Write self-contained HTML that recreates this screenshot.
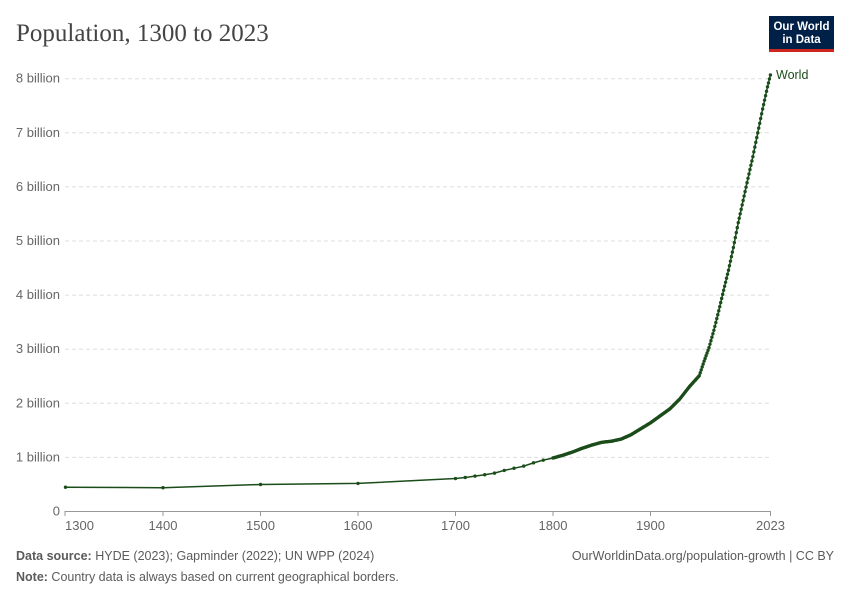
<!DOCTYPE html>
<html><head><meta charset="utf-8"><style>
body{margin:0;background:#fff;width:850px;height:600px;overflow:hidden;font-family:"Liberation Sans",sans-serif}
</style></head><body>
<svg width="850" height="600" xmlns="http://www.w3.org/2000/svg" id="s">
<text x="16" y="41" font-family="Liberation Serif,serif" font-size="25" fill="#444">Population, 1300 to 2023</text>
<rect x="769" y="16" width="65" height="33" fill="#002147"/>
<rect x="769" y="49" width="65" height="3" fill="#ce261e"/>
<text x="801.5" y="30" text-anchor="middle" font-size="11.5" font-weight="bold" fill="#fff">Our World</text>
<text x="801.5" y="43" text-anchor="middle" font-size="11.5" font-weight="bold" fill="#fff">in Data</text>
<g id="grid"></g>
<line x1="65.5" y1="511.5" x2="771" y2="511.5" stroke="#999"/>
<g id="data"></g>
<text x="776" y="79" font-size="12.5" fill="#1b4d1b">World</text>
<text x="16" y="560" font-size="12.5" fill="#5b5b5b"><tspan font-weight="bold">Data source:</tspan> HYDE (2023); Gapminder (2022); UN WPP (2024)</text>
<text x="834" y="560" text-anchor="end" font-size="12.5" fill="#5b5b5b">OurWorldinData.org/population-growth | CC BY</text>
<text x="16" y="581" font-size="12.5" fill="#5b5b5b"><tspan font-weight="bold">Note:</tspan> Country data is always based on current geographical borders.</text>
</svg>
<script>
var ns="http://www.w3.org/2000/svg";
function X(y){return 65.5+(y-1300)*0.975}
function Y(v){return 511-54.1*v}
function el(t,a,p){var e=document.createElementNS(ns,t);for(var k in a)e.setAttribute(k,a[k]);if(p)p.appendChild(e);return e}
var g=document.getElementById("grid");
for(var i=0;i<=8;i++){
 if(i>0)el("line",{x1:65,x2:771,y1:Y(i)+0.5,y2:Y(i)+0.5,stroke:"#ddd","stroke-dasharray":"4,3"},g);
 var t=el("text",{x:60,y:Y(i)+4.5,"text-anchor":"end","font-size":"13",fill:"#666"},g);
 t.textContent=i==0?"0":i+" billion";
}
[[1300,80],[1400,163],[1500,260],[1600,358],[1700,456],[1800,553],[1900,651],[2023,756]].forEach(function(a){
 var x=a[0]==1300?65:a[0]==2023?770.5:X(a[0]);
 el("line",{x1:x,x2:x,y1:511,y2:516,stroke:"#999"},g);
 var t=el("text",{x:a[0]==1300?65:x,y:530,"text-anchor":a[0]==1300?"start":"middle","font-size":"13",fill:"#666"},g);t.textContent=a[0];
});
var early=[[1300,.44],[1400,.43],[1500,.49],[1600,.51],[1700,.60],[1710,.62],[1720,.645],[1730,.67],[1740,.70],[1750,.75],[1760,.79],[1770,.83],[1780,.89],[1790,.94]];
var k=[[1800,.98],[1810,1.03],[1820,1.09],[1830,1.16],[1840,1.22],[1850,1.27],[1860,1.29],[1870,1.33],[1880,1.41],[1890,1.52],[1900,1.63],[1910,1.76],[1920,1.89],[1930,2.07],[1940,2.30],[1950,2.50],[1955,2.77],[1960,3.02],[1965,3.34],[1970,3.70],[1975,4.08],[1980,4.45],[1985,4.87],[1990,5.33],[1995,5.74],[2000,6.15],[2005,6.55],[2010,6.99],[2015,7.43],[2020,7.84],[2023,8.06]];
var pts=early.slice();
for(var j=0;j<k.length-1;j++){var a=k[j],b=k[j+1];for(var y=a[0];y<b[0];y++)pts.push([y,a[1]+(b[1]-a[1])*(y-a[0])/(b[0]-a[0])]);}
pts.push(k[k.length-1]);
var d=document.getElementById("data");
el("polyline",{points:pts.map(function(p){return X(p[0]).toFixed(1)+","+Y(p[1]).toFixed(1)}).join(" "),fill:"none",stroke:"#1b4d1b","stroke-width":"1.5"},d);
pts.forEach(function(p){el("circle",{cx:X(p[0]),cy:Y(p[1]),r:1.7,fill:"#1b4d1b"},d)});
</script>
</body></html>
